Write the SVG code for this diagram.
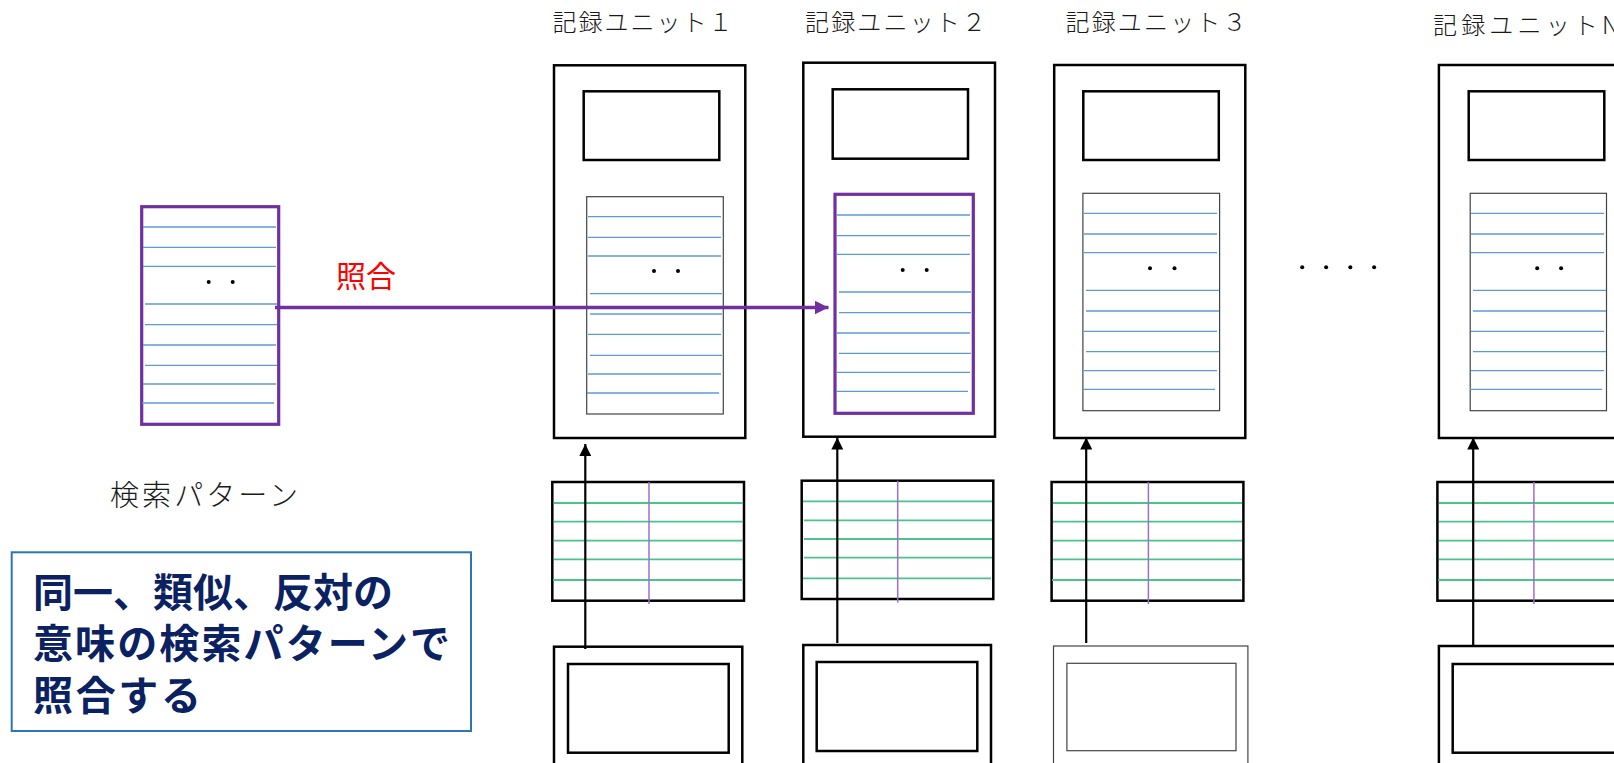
<svg xmlns="http://www.w3.org/2000/svg" width="1614" height="763" viewBox="0 0 1614 763">
<style>
.bg{fill:#ffffff}
.frame{fill:#ffffff;stroke:#000000;stroke-width:2.5}
.thin{fill:#ffffff;stroke:#444444;stroke-width:1.2}
.plist{fill:#ffffff;stroke:#7030A0;stroke-width:3.2}
.bl{stroke:#5B9BD5;stroke-width:1.3}
.gl{stroke:#4CC38A;stroke-width:1.8}
.pv{stroke:#9B6FD0;stroke-width:1.5}
.dot{fill:#000000}
.title{font-family:"Noto Sans CJK JP","Liberation Serif",sans-serif;font-size:24px;fill:#1a1a1a;font-weight:300}
.lbl{font-family:"Noto Sans CJK JP","Liberation Sans",sans-serif;font-size:29px;fill:#1a1a1a;font-weight:300}
.red{font-family:"Noto Sans CJK JP","Liberation Sans",sans-serif;font-size:30px;fill:#FF0000}
.note{font-family:"Noto Sans CJK JP","Liberation Sans",sans-serif;font-size:40px;font-weight:bold;fill:#0B2262}
.conn{stroke:#000000;stroke-width:2.2;fill:none}
.pconn{stroke:#7030A0;stroke-width:3.5;fill:none}
</style>
<defs>
<marker id="ah" viewBox="0 0 12 12" refX="12" refY="6" markerWidth="12" markerHeight="12" markerUnits="userSpaceOnUse" orient="auto">
<path d="M0,0 L12,6 L0,12 Z" fill="#000000"/>
</marker>
<marker id="ahp" viewBox="0 0 14 14" refX="14" refY="7" markerWidth="14" markerHeight="14" markerUnits="userSpaceOnUse" orient="auto">
<path d="M0,0 L14,7 L0,14 Z" fill="#7030A0"/>
</marker>
</defs>
<rect class="bg" x="0" y="0" width="1614" height="763"/>

<!-- search pattern -->
<g id="search-pattern">
<rect class="plist" x="141.7" y="206.7" width="137" height="217.6"/>
<g class="bl">
<line x1="143" y1="227" x2="276" y2="227"/>
<line x1="143" y1="247.3" x2="276" y2="247.3"/>
<line x1="143" y1="266.3" x2="276" y2="266.3"/>
<line x1="145" y1="304" x2="277" y2="304"/>
<line x1="145" y1="324.7" x2="277" y2="324.7"/>
<line x1="143" y1="345" x2="276" y2="345"/>
<line x1="145" y1="365.3" x2="277" y2="365.3"/>
<line x1="143" y1="384" x2="276" y2="384"/>
<line x1="142" y1="403" x2="274" y2="403"/>
</g>
<circle class="dot" cx="208.7" cy="282" r="2"/>
<circle class="dot" cx="232.7" cy="282" r="2"/>
</g>
<g id="search-pattern-label">
<text class="lbl" x="110" y="506" textLength="188" lengthAdjust="spacing">検索パターン</text>
</g>

<!-- unit 1 -->
<g id="unit1">
<text class="title" x="552.5" y="31" textLength="180" lengthAdjust="spacing">記録ユニット１</text>
<rect class="frame" x="554" y="65.3" width="191.3" height="372.7"/>
<rect class="frame" x="583.7" y="91.3" width="135.6" height="68.7"/>
<rect class="thin" x="586.7" y="196.7" width="136.6" height="217.3"/>
<g class="bl">
<line x1="588" y1="216.7" x2="721" y2="216.7"/>
<line x1="588" y1="237.3" x2="721" y2="237.3"/>
<line x1="588" y1="256" x2="721" y2="256"/>
<line x1="590" y1="293.7" x2="722" y2="293.7"/>
<line x1="590" y1="314" x2="722" y2="314"/>
<line x1="588" y1="334.3" x2="721" y2="334.3"/>
<line x1="590" y1="355.3" x2="722" y2="355.3"/>
<line x1="588" y1="374" x2="721" y2="374"/>
<line x1="587" y1="393" x2="719" y2="393"/>
</g>
<circle class="dot" cx="654" cy="271" r="2"/>
<circle class="dot" cx="678" cy="271" r="2"/>
</g>
<g id="table1">
<rect class="frame" x="552.3" y="482" width="191.7" height="118.7"/>
<g class="gl">
<line x1="554" y1="503" x2="743" y2="503"/>
<line x1="554" y1="521.7" x2="743" y2="521.7"/>
<line x1="554" y1="540.7" x2="743" y2="540.7"/>
<line x1="554" y1="559.3" x2="743" y2="559.3"/>
<line x1="553" y1="580" x2="742" y2="580"/>
</g>
<line class="pv" x1="649" y1="482" x2="649" y2="604"/>
</g>
<g id="source1">
<rect class="frame" x="554" y="646.7" width="188.3" height="130"/>
<rect class="frame" x="568" y="664" width="160.7" height="88.7"/>
</g>

<!-- unit 2 -->
<g id="unit2">
<text class="title" x="805" y="31" textLength="181" lengthAdjust="spacing">記録ユニット２</text>
<rect class="frame" x="803.3" y="62.7" width="191.7" height="374"/>
<rect class="frame" x="832.7" y="89.3" width="135.3" height="69.4"/>
<rect class="plist" x="835" y="194.3" width="138.3" height="219"/>
<g class="bl">
<line x1="837" y1="215" x2="970" y2="215"/>
<line x1="837" y1="235.7" x2="970" y2="235.7"/>
<line x1="837" y1="254.3" x2="970" y2="254.3"/>
<line x1="839" y1="292" x2="971" y2="292"/>
<line x1="839" y1="312.7" x2="971" y2="312.7"/>
<line x1="837" y1="333" x2="970" y2="333"/>
<line x1="839" y1="353.3" x2="971" y2="353.3"/>
<line x1="837" y1="372.3" x2="970" y2="372.3"/>
<line x1="836" y1="391.3" x2="968" y2="391.3"/>
</g>
<circle class="dot" cx="902.7" cy="270" r="2"/>
<circle class="dot" cx="926.7" cy="270" r="2"/>
</g>
<g id="table2">
<rect class="frame" x="801.7" y="480.7" width="191.6" height="118.3"/>
<g class="gl">
<line x1="803" y1="501.3" x2="992" y2="501.3"/>
<line x1="804" y1="520.3" x2="992" y2="520.3"/>
<line x1="804" y1="539" x2="992" y2="539"/>
<line x1="804" y1="557.7" x2="992" y2="557.7"/>
<line x1="803" y1="578.3" x2="991" y2="578.3"/>
</g>
<line class="pv" x1="897.7" y1="480.7" x2="897.7" y2="602.7"/>
</g>
<g id="source2">
<rect class="frame" x="803.3" y="645" width="187.7" height="130"/>
<rect class="frame" x="816.7" y="662" width="160.6" height="89"/>
</g>

<!-- unit 3 -->
<g id="unit3">
<text class="title" x="1065.5" y="31" textLength="181" lengthAdjust="spacing">記録ユニット３</text>
<rect class="frame" x="1054.2" y="65" width="191.1" height="373"/>
<rect class="frame" x="1083.3" y="91.3" width="135.5" height="68.7"/>
<rect class="thin" x="1082.9" y="193.3" width="136.7" height="217.4"/>
<g class="bl">
<line x1="1084" y1="213.3" x2="1217" y2="213.3"/>
<line x1="1084" y1="234" x2="1217" y2="234"/>
<line x1="1084" y1="252.7" x2="1217" y2="252.7"/>
<line x1="1086" y1="290.3" x2="1219" y2="290.3"/>
<line x1="1086" y1="311" x2="1219" y2="311"/>
<line x1="1084" y1="331.3" x2="1217" y2="331.3"/>
<line x1="1086" y1="351.7" x2="1219" y2="351.7"/>
<line x1="1084" y1="370.7" x2="1217" y2="370.7"/>
<line x1="1083" y1="389.3" x2="1215" y2="389.3"/>
</g>
<circle class="dot" cx="1150" cy="268.3" r="2"/>
<circle class="dot" cx="1174.5" cy="268.3" r="2"/>
</g>
<g id="table3">
<rect class="frame" x="1051.6" y="482" width="191.8" height="118.7"/>
<g class="gl">
<line x1="1053" y1="503" x2="1242" y2="503"/>
<line x1="1053" y1="521.7" x2="1242" y2="521.7"/>
<line x1="1053" y1="540.7" x2="1242" y2="540.7"/>
<line x1="1053" y1="559.3" x2="1242" y2="559.3"/>
<line x1="1052" y1="580" x2="1241" y2="580"/>
</g>
<line class="pv" x1="1148.4" y1="482" x2="1148.4" y2="604"/>
</g>
<g id="source3">
<rect class="thin" x="1053.5" y="646" width="194.4" height="130"/>
<rect class="thin" x="1066.9" y="663.3" width="169.1" height="87.4"/>
</g>

<!-- ellipsis -->
<g id="ellipsis">
<circle class="dot" cx="1302.2" cy="267.3" r="2"/>
<circle class="dot" cx="1326.1" cy="267.3" r="2"/>
<circle class="dot" cx="1350.3" cy="267.3" r="2"/>
<circle class="dot" cx="1374.1" cy="267.3" r="2"/>
</g>

<!-- unit N -->
<g id="unitN">
<text class="title" x="1433" y="34" textLength="186" lengthAdjust="spacing">記録ユニットN</text>
<rect class="frame" x="1438.9" y="65" width="191.1" height="373"/>
<rect class="frame" x="1468.7" y="91.3" width="135.6" height="68.7"/>
<rect class="thin" x="1470.2" y="193.3" width="136.3" height="217.4"/>
<g class="bl">
<line x1="1471" y1="213.3" x2="1604" y2="213.3"/>
<line x1="1471" y1="234" x2="1604" y2="234"/>
<line x1="1471" y1="252.7" x2="1604" y2="252.7"/>
<line x1="1473" y1="290.3" x2="1606" y2="290.3"/>
<line x1="1473" y1="311" x2="1606" y2="311"/>
<line x1="1471" y1="331.3" x2="1604" y2="331.3"/>
<line x1="1473" y1="351.7" x2="1606" y2="351.7"/>
<line x1="1471" y1="370.7" x2="1604" y2="370.7"/>
<line x1="1470" y1="389.3" x2="1602" y2="389.3"/>
</g>
<circle class="dot" cx="1537.2" cy="268.3" r="2"/>
<circle class="dot" cx="1561.1" cy="268.3" r="2"/>
</g>
<g id="tableN">
<rect class="frame" x="1437.4" y="482" width="191.8" height="118.7"/>
<g class="gl">
<line x1="1439" y1="503" x2="1628" y2="503"/>
<line x1="1439" y1="521.7" x2="1628" y2="521.7"/>
<line x1="1439" y1="540.7" x2="1628" y2="540.7"/>
<line x1="1439" y1="559.3" x2="1628" y2="559.3"/>
<line x1="1438" y1="580" x2="1627" y2="580"/>
</g>
<line class="pv" x1="1533.9" y1="482" x2="1533.9" y2="604"/>
</g>
<g id="sourceN">
<rect class="frame" x="1438.9" y="646" width="191" height="130"/>
<rect class="frame" x="1452.7" y="664" width="180" height="88.7"/>
</g>

<!-- note box -->
<g id="note">
<rect x="11.7" y="552.3" width="459.3" height="178.7" fill="#ffffff" stroke="#2E75B6" stroke-width="2"/>
<text class="note" x="33" y="607" textLength="360" lengthAdjust="spacing">同一、類似、反対の</text>
<text class="note" x="33" y="658" textLength="417" lengthAdjust="spacing">意味の検索パターンで</text>
<text class="note" x="33" y="710" textLength="168" lengthAdjust="spacing">照合する</text>
</g>

<!-- connectors -->
<g id="connectors">
<line class="pconn" x1="275" y1="307.5" x2="828.5" y2="307.5" marker-end="url(#ahp)"/>
<line class="conn" x1="585.3" y1="649" x2="585.3" y2="444" marker-end="url(#ah)"/>
<line class="conn" x1="837.3" y1="643" x2="837.3" y2="437.5" marker-end="url(#ah)"/>
<line class="conn" x1="1086.2" y1="643" x2="1086.2" y2="437.5" marker-end="url(#ah)"/>
<line class="conn" x1="1473.2" y1="645" x2="1473.2" y2="437.5" marker-end="url(#ah)"/>
</g>
<g id="match-label">
<text class="red" x="336" y="287">照合</text>
</g>
</svg>
